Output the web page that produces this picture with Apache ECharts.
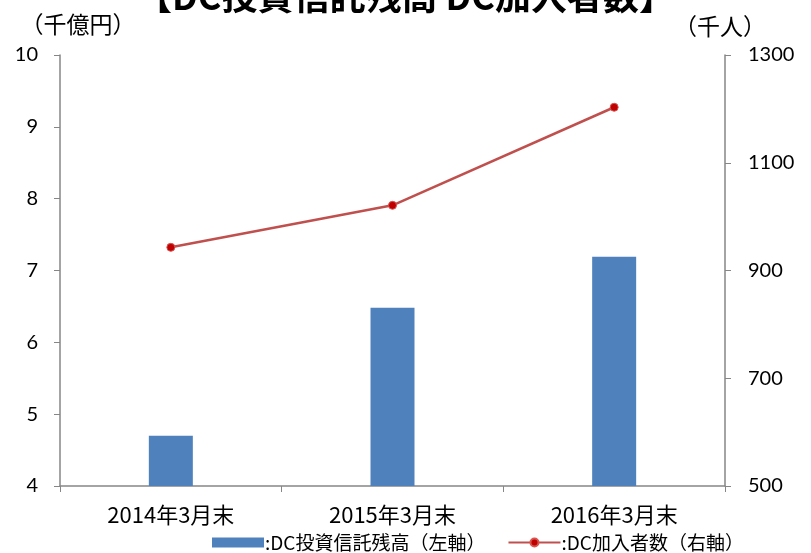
<!DOCTYPE html>
<html>
<head>
<meta charset="utf-8">
<script src="https://cdn.jsdelivr.net/npm/echarts@6/dist/echarts.min.js"></script>
<style>
    html, body {margin: 0; padding: 0; background: #fff;}
    #chart {width: 811px; height: 553px;}
</style>
</head>
<body>
<div id="chart"></div>
<script>
var categories = ['2014年3月末', '2015年3月末', '2016年3月末'];
var fundBalance = [4.70, 6.48, 7.19];      // 千億円 (left axis)
var members = [943, 1021, 1203];           // 千人 (right axis)
var leftTicks = [4, 10, 1];                // min, max, interval
var rightTicks = [500, 1300, 200];

var jpFont = '"Noto Sans CJK JP", sans-serif';
var numFont = 'Lato, "Noto Sans", sans-serif';
var axisGray = '#868686';

var option = {
    animation: false,
    title: {
        text: '【DC投資信託残高 DC加入者数】',
        left: 'center',
        top: -22,
        padding: 0,
        textStyle: {fontFamily: jpFont, fontSize: 36, fontWeight: 'bold', color: '#000'}
    },
    grid: {left: 60, right: 86, top: 55, bottom: 67},
    legend: {
        top: 533,
        left: 212,
        padding: 0,
        itemGap: 22,
        itemWidth: 52,
        itemHeight: 10,
        textStyle: {fontFamily: jpFont, fontSize: 19, color: '#000', padding: [0, 0, 0, -4]},
        data: [
            {name: ':DC投資信託残高（左軸）', icon: 'rect'},
            {name: ':DC加入者数（右軸）'}
        ]
    },
    xAxis: {
        type: 'category',
        data: categories,
        axisLine: {lineStyle: {color: axisGray, width: 1.5}},
        axisTick: {show: true, length: 6, lineStyle: {color: axisGray}},
        axisLabel: {fontFamily: jpFont, fontSize: 22, color: '#000', margin: 18}
    },
    yAxis: [
        {
            type: 'value',
            min: leftTicks[0], max: leftTicks[1], interval: leftTicks[2],
            name: '（千億円）',
            nameLocation: 'end',
            nameGap: 19,
            nameTextStyle: {fontFamily: jpFont, fontSize: 23, color: '#000', align: 'center', padding: [0, 0, 0, 36]},
            axisLine: {show: true, lineStyle: {color: axisGray, width: 1.5}},
            axisTick: {show: true, length: 6, lineStyle: {color: axisGray}},
            splitLine: {show: false},
            axisLabel: {fontFamily: numFont, fontSize: 20, color: '#000', margin: 22}
        },
        {
            type: 'value',
            min: rightTicks[0], max: rightTicks[1], interval: rightTicks[2],
            name: '（千人）',
            nameLocation: 'end',
            nameGap: 17,
            nameTextStyle: {fontFamily: jpFont, fontSize: 23, color: '#000', align: 'center', padding: [0, 10, 0, 0]},
            axisLine: {show: true, lineStyle: {color: axisGray, width: 1.5}},
            axisTick: {show: true, length: 6, lineStyle: {color: axisGray}},
            splitLine: {show: false},
            axisLabel: {
                fontFamily: numFont, fontSize: 20, color: '#000', margin: 23,
                formatter: function (v) { return String(v); }
            }
        }
    ],
    series: [
        {
            name: ':DC投資信託残高（左軸）',
            type: 'bar',
            yAxisIndex: 0,
            barWidth: 44,
            data: fundBalance,
            itemStyle: {color: '#4F81BD'}
        },
        {
            name: ':DC加入者数（右軸）',
            type: 'line',
            yAxisIndex: 1,
            data: members,
            symbol: 'circle',
            symbolSize: 8,
            lineStyle: {color: '#C0504D', width: 2.5},
            itemStyle: {color: '#C00000', borderColor: '#D9534F', borderWidth: 1}
        }
    ]
};
echarts.init(document.getElementById('chart')).setOption(option);
</script>
</body>
</html>
